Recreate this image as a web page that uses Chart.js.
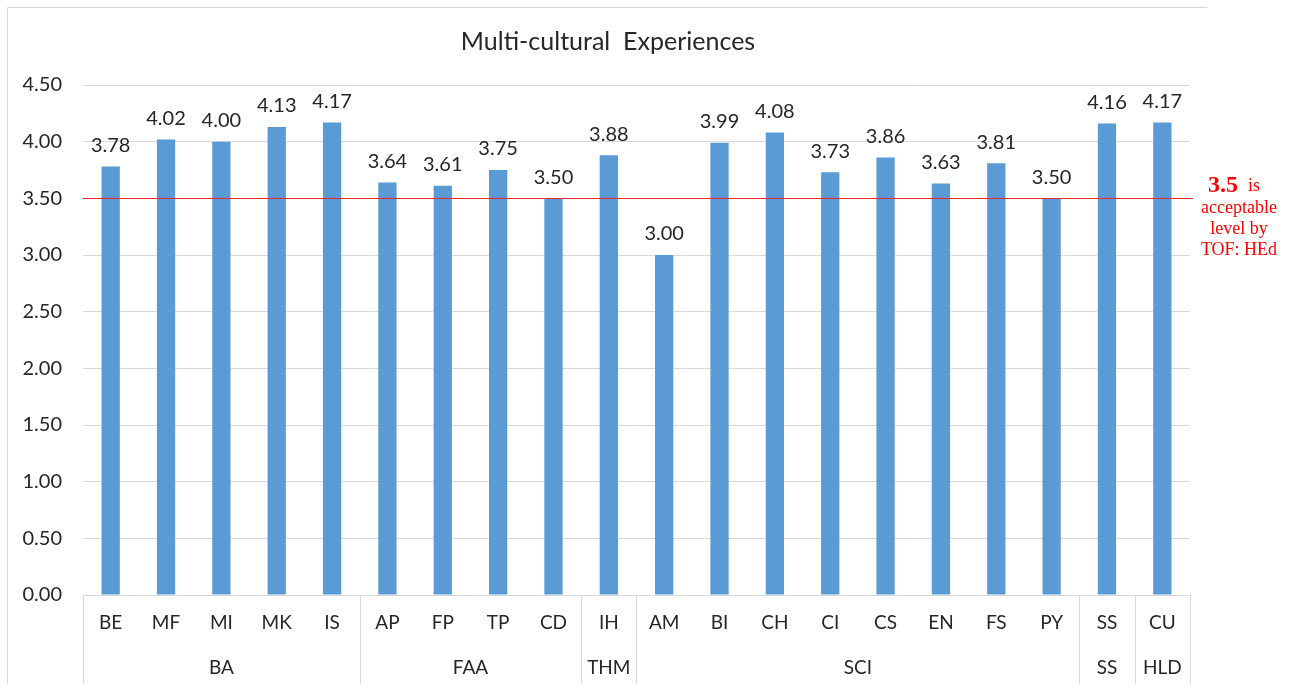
<!DOCTYPE html>
<html>
<head>
<meta charset="utf-8">
<script src="https://cdn.jsdelivr.net/npm/chart.js@4/dist/chart.umd.min.js"></script>
<style>
    body { margin: 0; background: #fff; }
    #wrap { width: 1294px; height: 684px; }
</style>
</head>
<body>
<div id="wrap"><canvas id="mainChart" width="1294" height="684"></canvas></div>
<script>
const categories = ['BE', 'MF', 'MI', 'MK', 'IS', 'AP', 'FP', 'TP', 'CD', 'IH', 'AM', 'BI', 'CH', 'CI', 'CS', 'EN', 'FS', 'PY', 'SS', 'CU'];
const scores = [3.78, 4.02, 4.00, 4.13, 4.17, 3.64, 3.61, 3.75, 3.50, 3.88, 3.00, 3.99, 4.08, 3.73, 3.86, 3.63, 3.81, 3.50, 4.16, 4.17];
const groupNames = ['BA', 'FAA', 'THM', 'SCI', 'SS', 'HLD'];
const groupSizes = [5, 4, 1, 8, 1, 1];
const acceptableLevel = 3.5;
const chartTitle = 'Multi-cultural  Experiences';
const noteLines = ['acceptable', 'level by', 'TOF: HEd'];

const textFont = 'Lato, "Open Sans", sans-serif';
const textColor = '#262626';
const lineGray = '#d9d9d9';

// frame, title, value labels, group row, red reference line
const extrasPlugin = {
    id: 'extras',
    beforeDraw(chart) {
        const ctx = chart.ctx;
        ctx.save();
        ctx.fillStyle = '#fff';
        ctx.fillRect(0, 0, chart.width, chart.height);
        ctx.strokeStyle = lineGray;
        ctx.lineWidth = 1;
        ctx.beginPath();
        ctx.moveTo(7.5, chart.height);
        ctx.lineTo(7.5, 7.5);
        ctx.lineTo(1207, 7.5);
        ctx.stroke();
        ctx.restore();
    },
    afterDraw(chart) {
        const ctx = chart.ctx;
        const area = chart.chartArea;
        const x = chart.scales.x;
        const y = chart.scales.y;
        ctx.save();

        // title
        ctx.fillStyle = textColor;
        ctx.font = '25px ' + textFont;
        ctx.textAlign = 'center';
        ctx.textBaseline = 'middle';
        ctx.fillText(chartTitle, 608, 42);

        // value labels
        ctx.font = '20px ' + textFont;
        ctx.textBaseline = 'bottom';
        const meta = chart.getDatasetMeta(0);
        meta.data.forEach((bar, i) => {
            ctx.fillText(scores[i].toFixed(2), bar.x, bar.y - 11);
        });

        // group separators and labels
        ctx.strokeStyle = lineGray;
        ctx.lineWidth = 1;
        ctx.font = '19px ' + textFont;
        const half = (x.getPixelForValue(1) - x.getPixelForValue(0)) / 2;
        let start = 0;
        const edges = [Math.round(x.getPixelForValue(0) - half) + 0.5];
        groupSizes.forEach((size, g) => {
            const left = x.getPixelForValue(start) - half;
            const right = x.getPixelForValue(start + size - 1) + half;
            edges.push(Math.round(right) + 0.5);
            ctx.textBaseline = 'middle';
            ctx.fillText(groupNames[g], (left + right) / 2, 668);
            start += size;
        });
        ctx.beginPath();
        edges.forEach((ex) => {
            ctx.moveTo(ex, area.bottom);
            ctx.lineTo(ex, chart.height);
        });
        ctx.stroke();

        // acceptable level line
        const ry = Math.round(y.getPixelForValue(acceptableLevel)) + 0.5;
        ctx.strokeStyle = '#e8262b';
        ctx.beginPath();
        ctx.moveTo(area.left, ry);
        ctx.lineTo(area.right + 3, ry);
        ctx.stroke();

        // note
        ctx.fillStyle = '#ff0000';
        ctx.textAlign = 'left';
        ctx.textBaseline = 'alphabetic';
        ctx.font = 'bold 24px "Liberation Serif", serif';
        ctx.fillText('3.5', 1208, 192);
        const w = ctx.measureText('3.5').width;
        ctx.font = '18px "Liberation Serif", serif';
        ctx.fillText('is', 1208 + w + 10, 191);
        ctx.textAlign = 'center';
        noteLines.forEach((line, i) => {
            ctx.fillText(line, 1239, 213 + i * 21);
        });
        ctx.restore();
    },
};

const ctx = document.getElementById('mainChart');
const config = {
    type: 'bar',
    data: {
        labels: categories,
        datasets: [
            {
                data: scores,
                backgroundColor: '#5b9bd5',
                categoryPercentage: 1,
                barPercentage: 0.33,
            },
        ],
    },
    options: {
        responsive: false,
        animation: false,
        layout: {
            padding: { left: 0, right: 104, top: 85, bottom: 0 },
        },
        plugins: {
            legend: { display: false },
            tooltip: { enabled: false },
        },
        scales: {
            x: {
                grid: { display: false, drawTicks: false },
                border: { display: true, color: lineGray },
                ticks: {
                    color: textColor,
                    font: { family: textFont, size: 19 },
                    padding: 16,
                    maxRotation: 0,
                    autoSkip: false,
                },
                afterFit(scale) {
                    scale.height = 89;
                },
            },
            y: {
                min: 0,
                max: 4.5,
                grid: { color: lineGray, drawTicks: false },
                border: { display: false },
                ticks: {
                    stepSize: 0.5,
                    color: textColor,
                    font: { family: textFont, size: 20 },
                    padding: 21,
                    callback: (value) => Number(value).toFixed(2),
                },
                afterFit(scale) {
                    scale.width = 83;
                },
            },
        },
    },
    plugins: [extrasPlugin],
};

new Chart(ctx, config);
</script>
</body>
</html>
